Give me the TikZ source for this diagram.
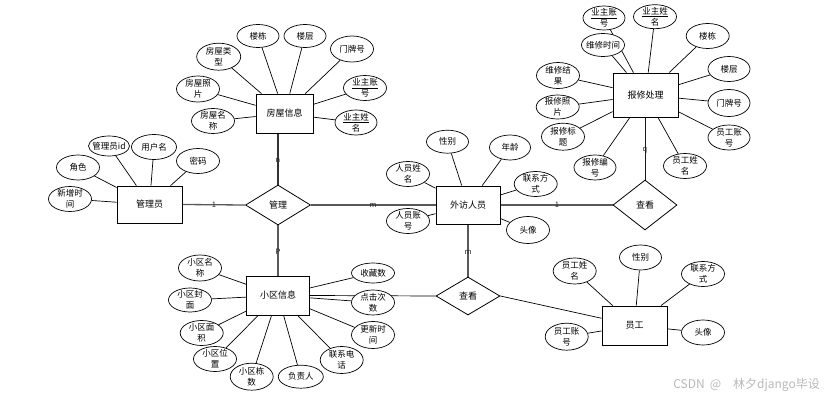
\documentclass[tikz,border=0pt]{standalone}
\usepackage{fontspec}
\newfontfamily\cjk{Noto Sans CJK SC}
\usetikzlibrary{shapes.geometric}
\pgfdeclarelayer{bg}
\pgfsetlayers{bg,main}
\begin{document}
\begin{tikzpicture}[x=1pt,y=-1pt,
  ent/.style={draw, fill=white, line width=0.8pt, inner sep=0pt, font=\cjk\fontsize{9}{11}\selectfont},
  attr/.style={ellipse, draw, fill=white, line width=0.7pt, minimum width=43pt, minimum height=25pt,
    inner xsep=-3pt, inner ysep=-2.5pt, align=center, font=\cjk\fontsize{8.5}{11}\selectfont},
  rel/.style={diamond, draw, fill=white, line width=0.8pt, inner sep=0pt, font=\cjk\fontsize{9}{11}\selectfont},
  aline/.style={draw=black, line width=0.7pt},
  rline/.style={draw=black!65, line width=1.3pt},
  card/.style={inner sep=0.5pt, font=\cjk\fontsize{7.5}{7.5}\selectfont, text=black!85}
]
\useasboundingbox (0,0) rectangle (836,401);

% ---------- 房屋信息 ----------
\node[ent, minimum width=57pt, minimum height=39pt] (fw) at (284.5,113.5) {房屋信息};
\node[attr, minimum width=42pt, minimum height=23pt] (fa1) at (258,36) {楼栋};
\node[attr, minimum width=42pt, minimum height=23pt] (fa2) at (305,36) {楼层};
\node[attr, minimum width=44pt, minimum height=27pt] (fa3) at (218.7,56.7) {房屋类\\型};
\node[attr, minimum height=26pt] (fa4) at (352,49) {门牌号};
\node[attr, minimum height=26pt] (fa5) at (198,89) {房屋照\\片};
\node[attr, minimum height=25pt] (fa6) at (365,88) {\underline{业主账}\\号};
\node[attr] (fa7) at (213,121) {房屋名\\称};
\node[attr, minimum width=42pt] (fa8) at (356,122.5) {\underline{业主姓}\\名};

% ---------- 管理员 ----------
\node[ent, minimum width=65pt, minimum height=37pt] (gly) at (149.5,204.5) {管理员};
\node[attr, minimum width=41pt, minimum height=20pt] (ga1) at (109,146) {管理员id};
\node[attr, minimum width=45pt] (ga2) at (154,147) {用户名};
\node[attr] (ga3) at (198,161) {密码};
\node[attr] (ga4) at (78,167.5) {角色};
\node[attr] (ga5) at (70,199) {新增时\\间};

% ---------- 管理 ----------
\node[rel, minimum width=65pt, minimum height=40pt] (gl) at (278,205) {管理};

% ---------- 外访人员 ----------
\node[ent, minimum width=64pt, minimum height=38pt] (wf) at (468,205) {外访人员};
\node[attr, minimum width=42pt, minimum height=23pt] (wa1) at (447.5,141.7) {性别};
\node[attr, minimum width=41pt] (wa2) at (510,147.5) {年龄};
\node[attr] (wa3) at (408,174) {人员姓\\名};
\node[attr] (wa4) at (535.7,184) {联系方\\式};
\node[attr] (wa5) at (408,221) {人员账\\号};
\node[attr, minimum height=27pt] (wa6) at (528,230) {头像};

% ---------- 查看 (upper) ----------
\node[rel, minimum width=64pt, minimum height=50pt] (ck1) at (645,205) {查看};

% ---------- 报修处理 ----------
\node[ent, minimum width=65pt, minimum height=44pt] (bx) at (645.5,95) {报修处理};
\node[attr, minimum width=42pt, minimum height=24pt] (ba1) at (604,18) {\underline{业主账}\\号};
\node[attr, minimum height=24pt] (ba2) at (655,16.7) {\underline{业主姓}\\名};
\node[attr, minimum height=23pt] (ba3) at (603,45) {维修时间};
\node[attr] (ba4) at (707.7,36) {楼栋};
\node[attr, minimum height=26pt] (ba5) at (558,75.5) {维修结\\果};
\node[attr, minimum width=42pt] (ba6) at (729,69) {楼层};
\node[attr, minimum height=24pt] (ba7) at (557.7,107) {报修照\\片};
\node[attr, minimum width=42pt, minimum height=27pt] (ba8) at (729,103) {门牌号};
\node[attr, minimum height=27pt] (ba9) at (563,136.7) {报修标\\题};
\node[attr, minimum width=42pt] (ba10) at (595,167.5) {报修编\\号};
\node[attr] (ba11) at (685,166) {员工姓\\名};
\node[attr, minimum width=42pt] (ba12) at (729,137.5) {员工账\\号};

% ---------- 小区信息 ----------
\node[ent, minimum width=63pt, minimum height=39pt] (xq) at (278,295.5) {小区信息};
\node[attr, minimum height=26pt] (xa1) at (200,268) {小区名\\称};
\node[attr, minimum height=24pt] (xa2) at (190,300) {小区封\\面};
\node[attr] (xa3) at (201.7,333) {小区面\\积};
\node[attr] (xa4) at (215,359) {小区位\\置};
\node[attr, minimum height=27pt] (xa5) at (251.7,376.7) {小区栋\\数};
\node[attr, minimum width=45pt, minimum height=23pt] (xa6) at (300.8,376.7) {负责人};
\node[attr, minimum height=27pt] (xa7) at (341.7,360) {联系电\\话};
\node[attr, minimum height=27pt] (xa8) at (373,335) {更新时\\间};
\node[attr] (xa9) at (373,302.5) {点击次\\数};
\node[attr, minimum height=20pt] (xa10) at (373,273) {收藏数};

% ---------- 查看 (lower) ----------
\node[rel, minimum width=64pt, minimum height=38pt] (ck2) at (468,296) {查看};

% ---------- 员工 ----------
\node[ent, minimum width=65pt, minimum height=39pt] (yg) at (634.5,325.5) {员工};
\node[attr, minimum height=26pt] (ya1) at (574.7,271) {员工姓\\名};
\node[attr, minimum width=42pt] (ya2) at (640.5,257.5) {性别};
\node[attr] (ya3) at (703,274) {联系方\\式};
\node[attr, minimum height=27pt] (ya4) at (566.7,336.7) {员工账\\号};
\node[attr] (ya5) at (703,332.5) {头像};

% ---------- connectors ----------
\begin{pgfonlayer}{bg}
  \foreach \a in {fa1,fa2,fa3,fa4,fa5,fa6,fa7,fa8} \draw[aline] (fw) -- (\a);
  \foreach \a in {ga1,ga2,ga3,ga4,ga5} \draw[aline] (gly) -- (\a);
  \foreach \a in {wa1,wa2,wa3,wa4,wa5,wa6} \draw[aline] (wf) -- (\a);
  \foreach \a in {ba1,ba2,ba3,ba4,ba5,ba6,ba7,ba8,ba9,ba10,ba11,ba12} \draw[aline] (bx) -- (\a);
  \foreach \a in {xa1,xa2,xa3,xa4,xa5,xa6,xa7,xa8,xa9,xa10} \draw[aline] (xq) -- (\a);
  \foreach \a in {ya1,ya2,ya3,ya4,ya5} \draw[aline] (yg) -- (\a);
  \draw[rline] (gly.east) -- (gl.west);
  \draw[rline] (gl.east) -- (wf.west);
  \draw[rline] (wf.east) -- (ck1.west);
  \draw[rline, draw=black!80] (gl.north) -- (gl.north |- fw.south);
  \draw[rline] (gl.south) -- (xq.north);
  \draw[rline, draw=black!90, line width=1pt] (ck1.north) -- (ck1.north |- bx.south);
  \draw[rline] (ck2.north) -- (wf.south);
  \draw[aline] (xq.east) -- (ck2.west);
  \draw[aline] (ck2.east) -- (yg);
\end{pgfonlayer}

% ---------- cardinalities ----------
\node[card] (c1) at (214,205) {1};
\node[card] (c2) at (278,160) {n};
\node[card] (c3) at (373,205) {m};
\node[card] (c4) at (557,205) {1};
\node[card] (c5) at (645,150) {q};
\node[card] (c6) at (278,252) {P};
\node[card] (c7) at (468,252) {m};

% ---------- watermark ----------
\node[anchor=east, inner sep=0pt, text=black!28, font=\cjk\fontsize{12}{14}\selectfont] (wm) at (820,385) {CSDN\hspace{5pt}@\hspace{12pt}林夕django毕设};
\end{tikzpicture}
\end{document}
